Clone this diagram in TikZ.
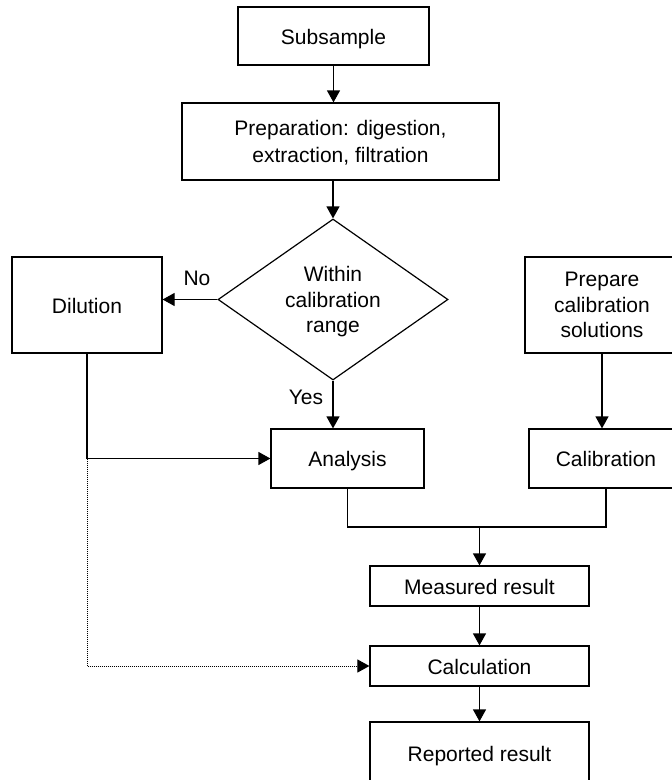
\documentclass[tikz,border=0pt]{standalone}
\usepackage{fontspec}
\setmainfont{Liberation Sans}
\usetikzlibrary{shapes.geometric,arrows.meta}
\begin{document}
\begin{tikzpicture}[x=1pt,y=-1pt,
    every node/.style={font=\fontsize{21}{25.5}\selectfont},
    box/.style={draw,line width=1.2pt,inner sep=0pt,align=center,text depth=0pt},
    single/.style={text height=16.5pt},
    decision/.style={draw,diamond,line width=1.2pt,inner sep=0pt,aspect=1.43,align=center,text depth=0pt,minimum width=230pt,minimum height=161pt},
    flow/.style={line width=1.2pt,-{Triangle[length=12pt,width=13pt]}},
    link/.style={line width=1.2pt},
    hint/.style={line width=1pt,dash pattern=on 1pt off 1pt}]
    \useasboundingbox (0,0) rectangle (672,780);

    \node[box,single,minimum width=191pt,minimum height=58pt] (sub) at (333.5,36) {Subsample};
    \node[box,font=\fontsize{21}{26.5}\selectfont,minimum width=317pt,minimum height=77pt] (prep) at (340.5,141.5) {Preparation: digestion,\\extraction, filtration};
    \node[decision] (range) at (333,299.5) {Within\\calibration\\range};
    \node[box,single,minimum width=150pt,minimum height=96pt] (dil) at (87,305) {Dilution};
    \node[box,minimum width=154pt,minimum height=96pt] (prepcal) at (602,305) {Prepare\\calibration\\solutions};
    \node[box,single,minimum width=153pt,minimum height=59pt] (ana) at (347.5,458.5) {Analysis};
    \node[box,single,minimum width=154pt,minimum height=59pt] (cal) at (606,458.5) {Calibration};
    \node[box,single,minimum width=219pt,minimum height=40pt] (meas) at (479.5,586) {Measured result};
    \node[box,single,minimum width=219pt,minimum height=40pt] (calc) at (479.5,666) {Calculation};
    \node[box,single,minimum width=219pt,minimum height=62pt] (rep) at (479.5,753) {Reported result};
    \node (no) at (197,278) {No};
    \node (yes) at (306,397) {Yes};
    \coordinate (join) at (479.5,527);

    \draw[flow] (sub.south) -- (sub.south |- prep.north);
    \draw[flow] (range.north |- prep.south) -- (range.north);
    \draw[flow] (range.west) -- (range.west -| dil.east);
    \draw[flow] (range.south) -- (range.south |- ana.north);
    \draw[flow] (prepcal.south) -- (prepcal.south |- cal.north);
    \draw[flow] (dil.south) |- (ana.west);
    \draw[flow,hint] (dil.south |- ana.west) |- (calc.west);
    \draw[link] (ana.south) |- (join) -| (cal.south);
    \draw[flow] (join) -- (meas.north);
    \draw[flow] (meas) -- (calc);
    \draw[flow] (calc) -- (rep);
\end{tikzpicture}
\end{document}
